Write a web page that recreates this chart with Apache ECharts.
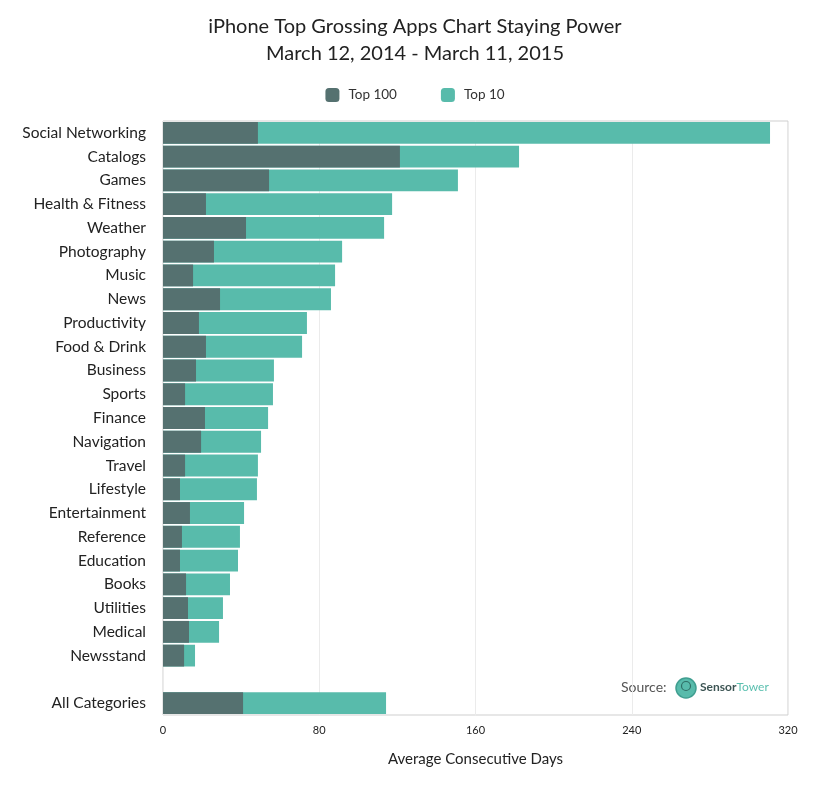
<!DOCTYPE html>
<html>
<head>
<meta charset="utf-8">
<script src="https://cdn.jsdelivr.net/npm/echarts@6/dist/echarts.min.js"></script>
<style>
  html, body { margin: 0; padding: 0; background: #fff; }
  #chart { width: 830px; height: 790px; }
</style>
</head>
<body>
<div id="chart"></div>
<script>
// categories top to bottom, blank row before "All Categories"
var categories = ['Social Networking', 'Catalogs', 'Games', 'Health & Fitness', 'Weather', 'Photography',
  'Music', 'News', 'Productivity', 'Food & Drink', 'Business', 'Sports', 'Finance', 'Navigation',
  'Travel', 'Lifestyle', 'Entertainment', 'Reference', 'Education', 'Books', 'Utilities', 'Medical',
  'Newsstand', '', 'All Categories'];
var top100 = [48.6, 121.3, 54.3, 22, 42.5, 26.1, 15.4, 29.2, 18.4, 22, 16.9, 11.3, 21.5, 19.5,
  11.3, 8.7, 13.8, 9.7, 8.7, 11.8, 12.8, 13.3, 10.8, null, 41];
var top10 = [310.8, 182.3, 151, 117.3, 113.2, 91.7, 88.1, 86, 73.7, 71.2, 56.8, 56.3, 53.8, 50.2,
  48.6, 48.1, 41.5, 39.4, 38.4, 34.3, 30.7, 28.7, 16.4, null, 114.2];
var xTicks = [0, 80, 160, 240, 320];

var font = 'Lato, "Open Sans", sans-serif';
var myChart = echarts.init(document.getElementById('chart'));
myChart.setOption({
  animation: false,
  textStyle: { fontFamily: font },
  title: {
    text: 'iPhone Top Grossing Apps Chart Staying Power\nMarch 12, 2014 - March 11, 2015',
    left: 'center',
    top: 8,
    textStyle: { fontSize: 20, fontWeight: 'normal', color: '#222', lineHeight: 27, fontFamily: font }
  },
  legend: {
    top: 83,
    left: 'center',
    itemWidth: 14,
    itemHeight: 14,
    itemGap: 44,
    data: ['Top 100', 'Top 10'],
    textStyle: { fontSize: 13.5, color: '#333', fontFamily: font, padding: [0, 0, 0, 4] }
  },
  grid: {
    left: 163,
    right: 42,
    top: 121,
    bottom: 75,
    show: true,
    borderColor: '#cfcfcf',
    borderWidth: 1
  },
  xAxis: {
    type: 'value',
    min: xTicks[0],
    max: xTicks[xTicks.length - 1],
    interval: 80,
    name: 'Average Consecutive Days',
    nameLocation: 'middle',
    nameGap: 37,
    nameTextStyle: { fontSize: 15, color: '#222', fontFamily: font },
    axisLine: { show: false },
    axisTick: { show: false },
    axisLabel: { fontSize: 11, color: '#222', margin: 10 },
    splitLine: { lineStyle: { color: '#ebebeb' } }
  },
  yAxis: {
    type: 'category',
    data: categories,
    inverse: true,
    axisLine: { show: false },
    axisTick: { show: false },
    axisLabel: { fontSize: 15.5, color: '#222', margin: 17 }
  },
  series: [
    {
      name: 'Top 10',
      type: 'bar',
      data: top10,
      barCategoryGap: '8%',
      itemStyle: { color: '#58bbab' },
      z: 2
    },
    {
      name: 'Top 100',
      type: 'bar',
      data: top100,
      barGap: '-100%',
      itemStyle: { color: '#557170' },
      z: 3
    }
  ],
  graphic: [
    {
      type: 'text',
      left: 621,
      top: 680,
      style: { text: 'Source:', fontSize: 14, fill: '#555', fontFamily: font }
    },
    {
      type: 'circle',
      shape: { cx: 686, cy: 688, r: 10 },
      style: { fill: '#58bbab', stroke: '#3f9e90', lineWidth: 1.5 }
    },
    {
      type: 'circle',
      shape: { cx: 686, cy: 686, r: 4.5 },
      style: { fill: 'none', stroke: '#2f6f66', lineWidth: 1.2 }
    },
    {
      type: 'text',
      left: 700,
      top: 681,
      style: {
        text: '{a|Sensor}{b|Tower}',
        rich: {
          a: { fontSize: 12, fontWeight: 'bold', fill: '#3d5554', fontFamily: font },
          b: { fontSize: 12, fill: '#5cc0b0', fontFamily: font }
        }
      }
    }
  ]
});
</script>
</body>
</html>
